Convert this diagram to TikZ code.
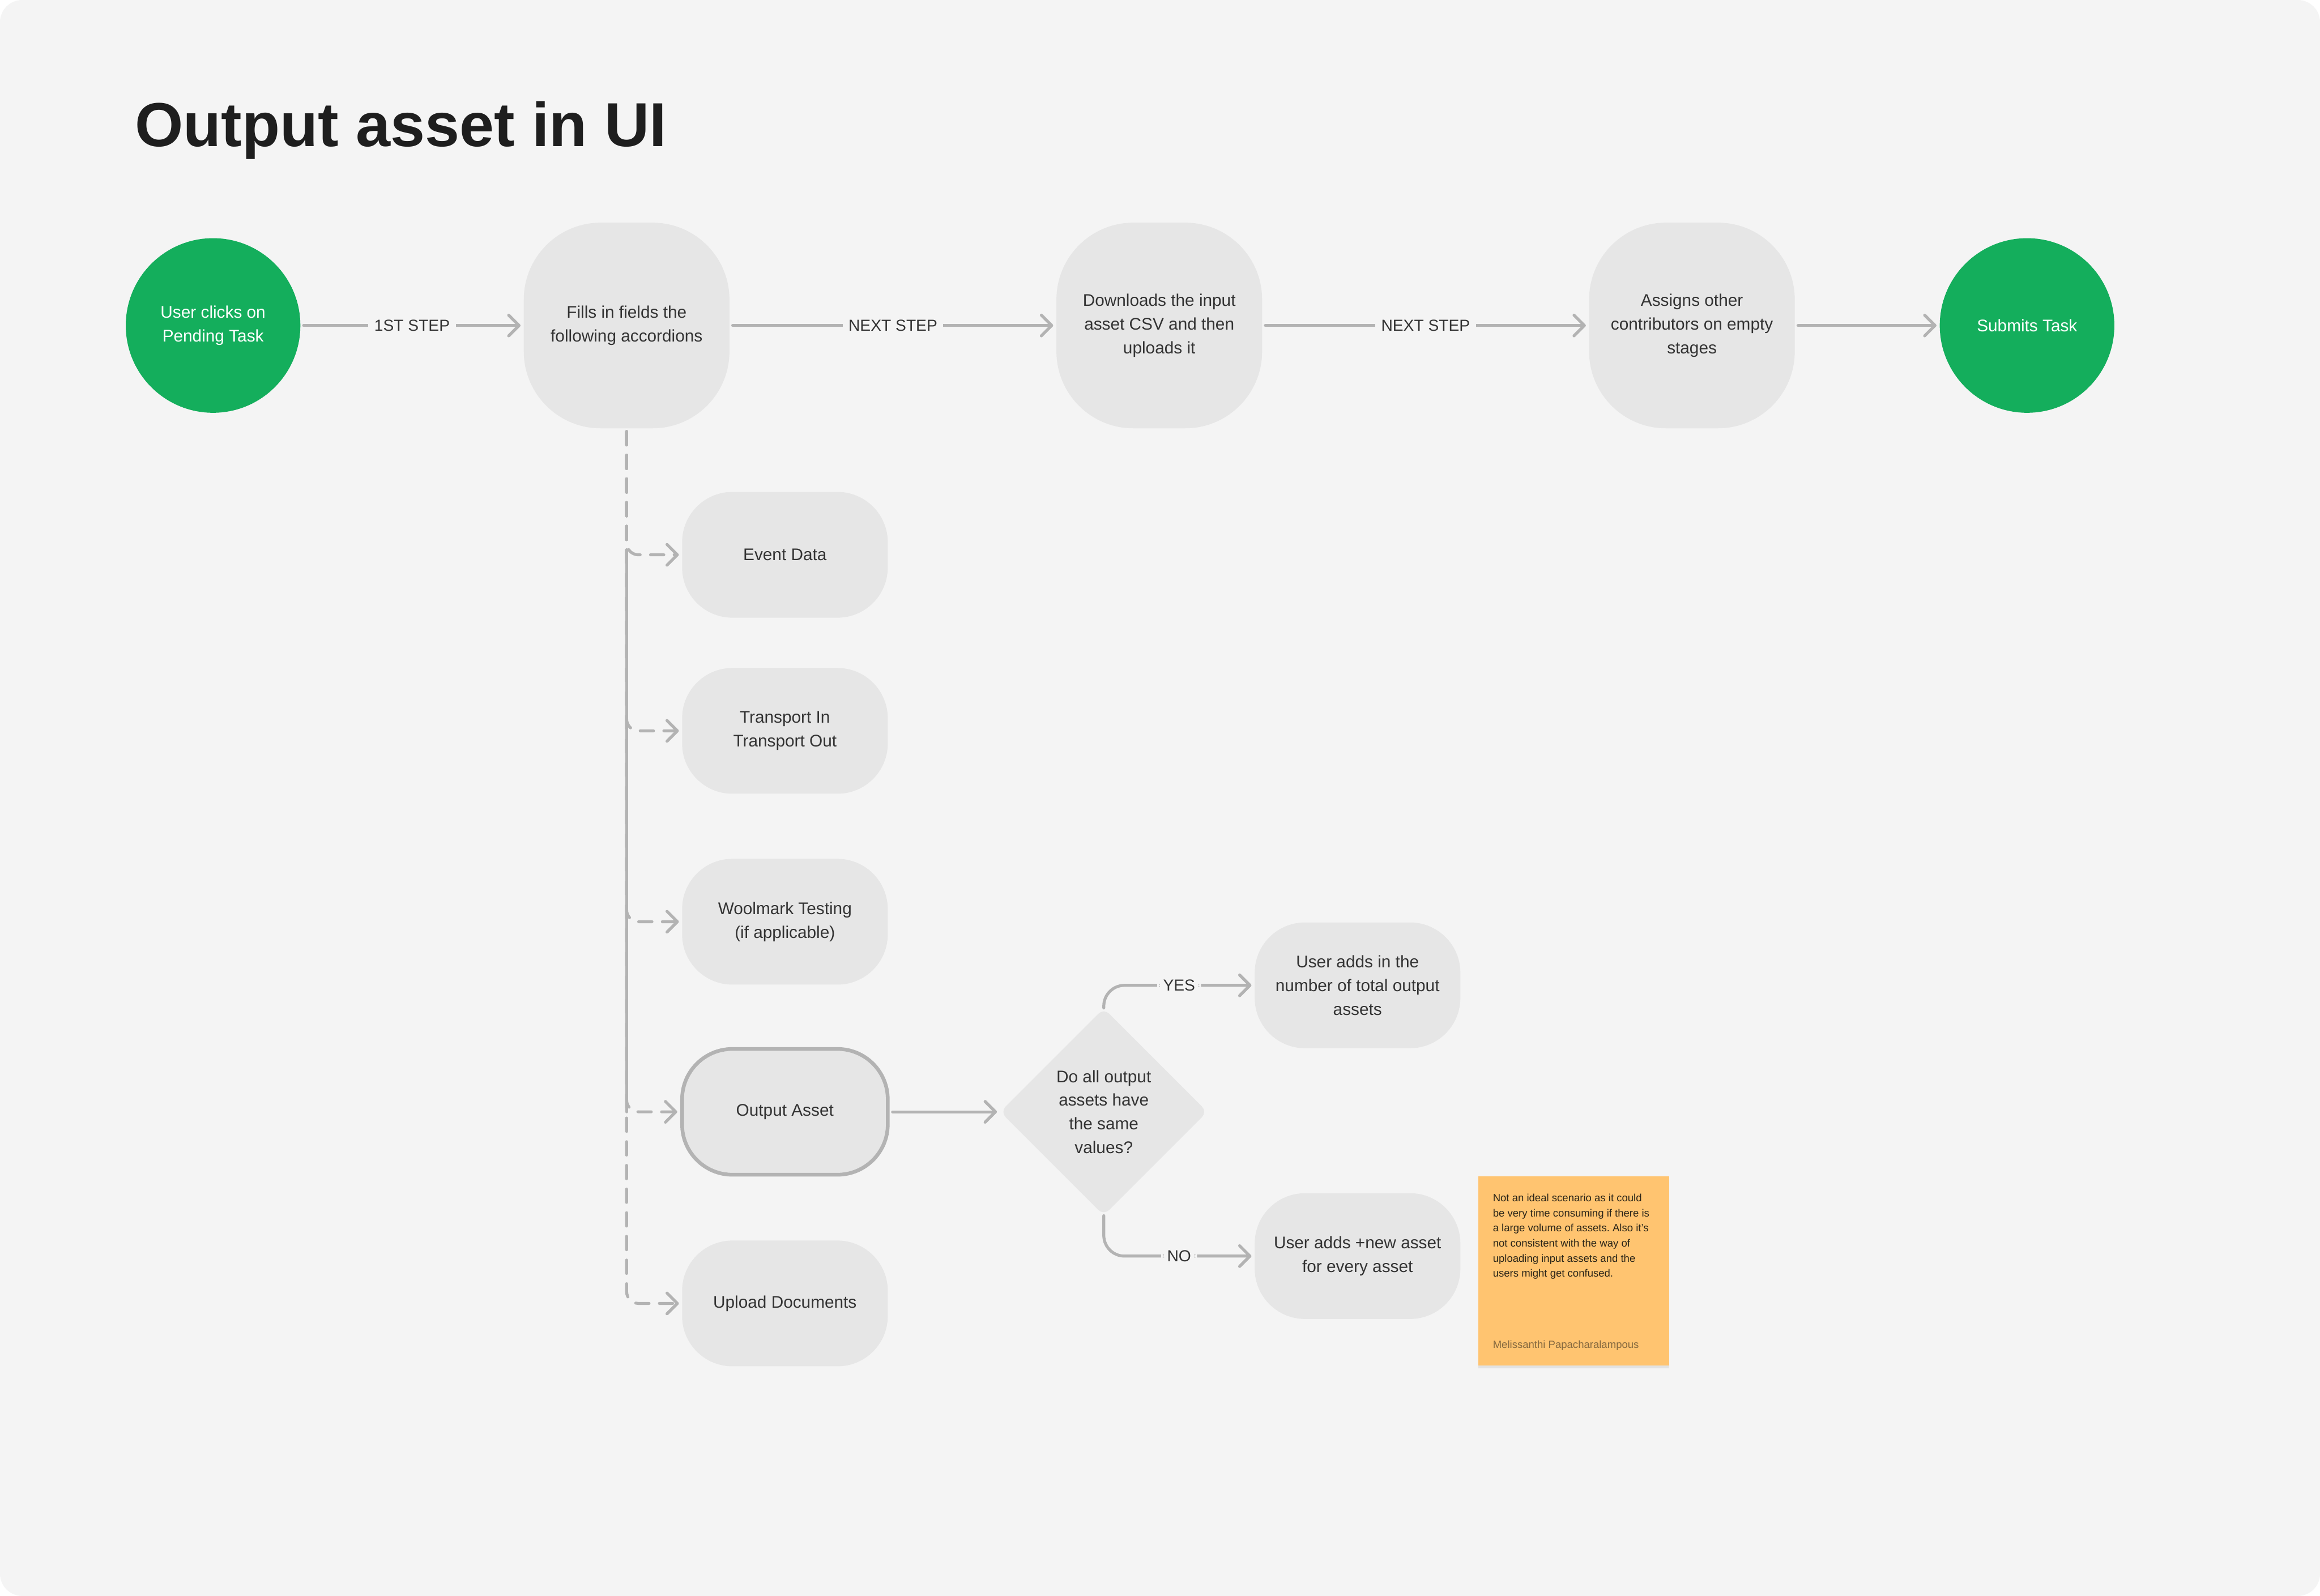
\documentclass[tikz,border=0pt]{standalone}
\usepackage{fontspec}
\setmainfont{Liberation Sans}
\usetikzlibrary{arrows.meta,shapes.geometric,shadows}

\definecolor{bgcol}{HTML}{F4F4F4}
\definecolor{boxcol}{HTML}{E6E6E6}
\definecolor{linecol}{HTML}{B3B3B3}
\definecolor{txtcol}{HTML}{333333}
\definecolor{titlecol}{HTML}{1E1E1E}
\definecolor{greencol}{HTML}{14AE5C}
\definecolor{notecol}{HTML}{FFC470}
\definecolor{notetxt}{HTML}{2A2418}
\definecolor{authorcol}{HTML}{85693F}

\newcommand{\flowtitle}{\fontsize{42pt}{50pt}\selectfont\bfseries}
\newcommand{\flowbody}{\fontsize{11.4pt}{16pt}\selectfont}
\newcommand{\flowlabel}{\fontsize{10.8pt}{13pt}\selectfont}
\newcommand{\flownote}{\fontsize{7.1pt}{10.2pt}\selectfont}
\frenchspacing

\begin{document}
\begin{tikzpicture}[x=1pt, y=-1pt, >={Straight Barb[length=7pt,width=14pt,round]}]
	% Stili per blocchi e collegamenti
	\tikzset{
		endpoint/.style={circle, fill=greencol, minimum size=118pt, inner sep=0pt, align=center, text=white, font=\flowbody},
		stagebox/.style={rectangle, rounded corners=52pt, fill=boxcol, minimum width=139pt, minimum height=139pt, inner sep=0pt, align=center, text=txtcol, font=\flowbody},
		itembox/.style={stagebox, rounded corners=34pt, minimum height=85pt},
		questionbox/.style={diamond, aspect=1, rounded corners=5pt, fill=boxcol, minimum width=140pt, minimum height=140pt, inner sep=0pt, align=center, text=txtcol, font=\flowbody},
		link/.style={draw=linecol, line width=2pt, line cap=round, line join=round, shorten <=2pt, shorten >=2pt},
		dashlink/.style={link, dash pattern=on 9pt off 7pt, rounded corners=8pt},
		steplabel/.style={fill=bgcol, inner sep=4pt, text=txtcol, font=\flowlabel}
	}
	
	% Sfondo
	\fill[white] (0,0) rectangle (1568,1078.7);
	\fill[bgcol, rounded corners=15pt] (0,0) rectangle (1568,1078.7);
	\useasboundingbox (0,0) rectangle (1568,1078.7);
	
	\node[anchor=base west, inner sep=0pt, text=titlecol, font=\flowtitle] (title) at (91,99) {Output asset in UI};
	
	% Riga principale
	\node[endpoint] (pending) at (144,220) {User clicks on\\Pending Task};
	\node[stagebox] (fills) at (423.5,220) {Fills in fields the\\following accordions};
	\node[stagebox] (download) at (783.5,220) {Downloads the input\\asset CSV and then\\uploads it};
	\node[stagebox] (assign) at (1143.5,220) {Assigns other\\contributors on empty\\stages};
	\node[endpoint] (submit) at (1370,220) {Submits Task};
	
	% Accordion
	\node[itembox] (event) at (530.5,375) {Event Data};
	\node[itembox] (transport) at (530.5,494) {Transport In\\Transport Out};
	\node[itembox] (woolmark) at (530.5,623) {Woolmark Testing\\(if applicable)};
	\node[itembox, draw=linecol, line width=2.5pt] (output) at (530.5,751.5) {Output Asset};
	\node[itembox] (upload) at (530.5,881) {Upload Documents};
	
	% Decisione
	\node[questionbox] (same) at (746,751.5) {Do all output\\assets have\\the same\\values?};
	\node[itembox] (yesbox) at (917.5,666) {User adds in the\\number of total output\\assets};
	\node[itembox] (nobox) at (917.5,849) {User adds +new asset\\for every asset};
	
	% Nota
	\node[rectangle, fill=notecol, minimum width=129pt, minimum height=128pt, inner sep=0pt,
		drop shadow={shadow xshift=0pt, shadow yshift=-2pt, opacity=0.15}] (note) at (1063.5,859) {};
	\node[anchor=north west, align=left, inner sep=0pt, text=notetxt, font=\flownote] (notetext) at ([xshift=10pt,yshift=-12pt]note.north west)
		{Not an ideal scenario as it could\\be very time consuming if there is\\a large volume of assets. Also it’s\\not consistent with the way of\\uploading input assets and the\\users might get confused.};
	\node[anchor=base west, inner sep=0pt, text=authorcol, font=\flownote] (author) at ([xshift=10pt,yshift=12pt]note.south west) {Melissanthi Papacharalampous};
	
	% Collegamenti
	\draw[link,->] (pending.east) -- (fills.west) node[steplabel, midway] {1ST STEP};
	\draw[link,->] (fills.east) -- (download.west) node[steplabel, midway] {NEXT STEP};
	\draw[link,->] (download.east) -- (assign.west) node[steplabel, midway] {NEXT STEP};
	\draw[link,->] (assign.east) -- (submit.west);
	
	\foreach \target in {event, transport, woolmark, output, upload}
		\draw[dashlink,->] (fills.south) |- (\target.west);
	\draw[link, shorten <=0pt, shorten >=0pt] (fills.south |- event.west) -- (fills.south |- output.west);
	
	\draw[link,->] (output.east) -- (same.west);
	\draw[link,->, rounded corners=14pt, shorten <=0pt] (same.north) |- (yesbox.west) node[steplabel, pos=0.75] {YES};
	\draw[link,->, rounded corners=14pt, shorten <=0pt] (same.south) |- (nobox.west) node[steplabel, pos=0.75] {NO};
\end{tikzpicture}
\end{document}
